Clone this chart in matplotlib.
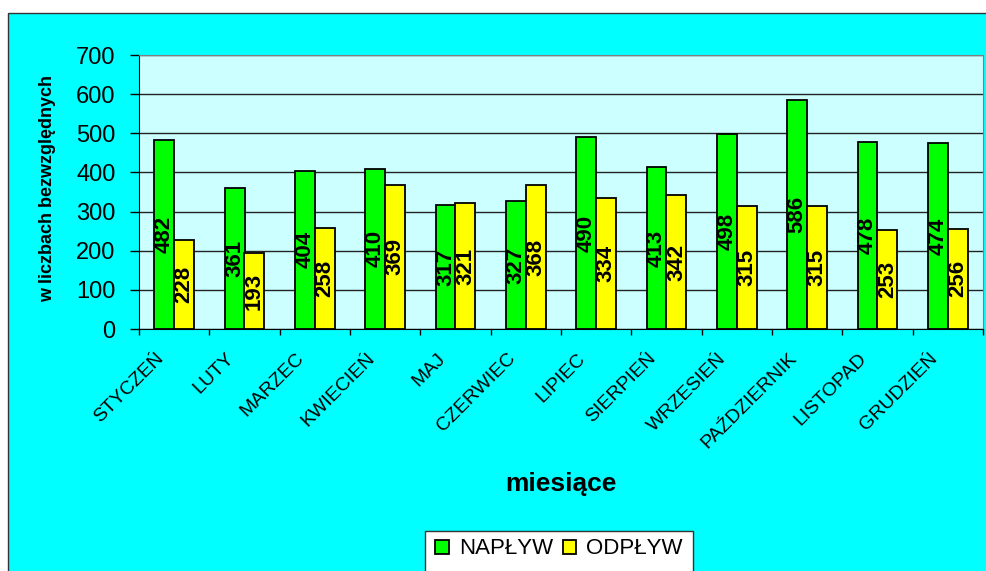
import matplotlib.pyplot as plt
import matplotlib.transforms as mtransforms
from matplotlib.patches import Rectangle
import numpy as np

plt.rcParams['font.family'] = ['Liberation Sans', 'DejaVu Sans']

# dane
miesiace = ['STYCZEŃ', 'LUTY', 'MARZEC', 'KWIECIEŃ', 'MAJ', 'CZERWIEC',
            'LIPIEC', 'SIERPIEŃ', 'WRZESIEŃ', 'PAŹDZIERNIK', 'LISTOPAD', 'GRUDZIEŃ']
naplyw = [482, 361, 404, 410, 317, 327, 490, 413, 498, 586, 478, 474]
odplyw = [228, 193, 258, 369, 321, 368, 334, 342, 315, 315, 253, 256]

fig = plt.figure(figsize=(9.86, 5.71), dpi=100)
fig.patch.set_facecolor('white')

# tlo wykresu (ramka)
fig.patches.append(Rectangle((8/986, -0.05), 1.1, 1 - 13/571 + 0.05,
                             transform=fig.transFigure, facecolor='#00FFFF',
                             edgecolor='#333333', linewidth=1, zorder=-10))

ax = fig.add_axes([139/986, 1 - 329/571, 844/986, 274/571])
ax.set_facecolor('#CCFFFF')

x = np.arange(len(miesiace))
w = 0.284
b1 = ax.bar(x - w/2, naplyw, w, color='#00FF00', edgecolor='black', linewidth=1.3,
            label='NAPŁYW', zorder=3)
b2 = ax.bar(x + w/2, odplyw, w, color='#FFFF00', edgecolor='black', linewidth=1.3,
            label='ODPŁYW', zorder=3)

for i in range(len(x)):
    ax.text(x[i] - w/2, naplyw[i]/2, str(naplyw[i]), rotation=90, ha='center',
            va='center', fontsize=16, fontweight='bold', zorder=4)
    ax.text(x[i] + w/2, odplyw[i]/2, str(odplyw[i]), rotation=90, ha='center',
            va='center', fontsize=16, fontweight='bold', zorder=4)

ax.set_xlim(-0.5, len(x) - 0.5)
ax.set_ylim(0, 700)
ax.set_yticks(np.arange(0, 701, 100))
ax.yaxis.grid(True, color='#222222', linewidth=1)
ax.set_axisbelow(True)
ax.tick_params(axis='y', direction='out', length=6.5, width=1, pad=10.5, labelsize=17)

ax.set_xticks(x)
ax.set_xticks(np.arange(-0.5, len(x), 1), minor=True)
ax.tick_params(axis='x', which='major', length=0, pad=15)
ax.tick_params(axis='x', which='minor', direction='out', length=4.3, width=1)
ax.set_xticklabels(miesiace, rotation=45, ha='right', va='top',
                   rotation_mode='anchor', fontsize=14)
off = mtransforms.ScaledTranslation(-19/100, 0, fig.dpi_scale_trans)
for lab in ax.get_xticklabels():
    lab.set_transform(lab.get_transform() + off)

for s in ['top', 'right']:
    ax.spines[s].set_color('#808080')
for s in ['left', 'bottom']:
    ax.spines[s].set_color('black')

fig.text(48/986, 1 - 188/571, 'w liczbach bezwzględnych', rotation=90, ha='center',
         va='center', fontsize=13, fontweight='bold')
fig.text(561/986, 1 - 484/571, 'miesiące', ha='center', va='center',
         fontsize=19, fontweight='bold')

# legenda
fig.patches.append(Rectangle((425/986, -0.05), 268/986, 1 - 531/571 + 0.05,
                             transform=fig.transFigure, facecolor='white',
                             edgecolor='#333333', linewidth=1, zorder=1))
leg = fig.legend(handles=[b1, b2], loc='center', bbox_to_anchor=(559/986, 1 - 549/571),
                 ncol=2, frameon=False, fontsize=16, handlelength=0.6,
                 handleheight=0.6, handletextpad=0.45, columnspacing=0.45)

fig.savefig('out.png', dpi=100)
